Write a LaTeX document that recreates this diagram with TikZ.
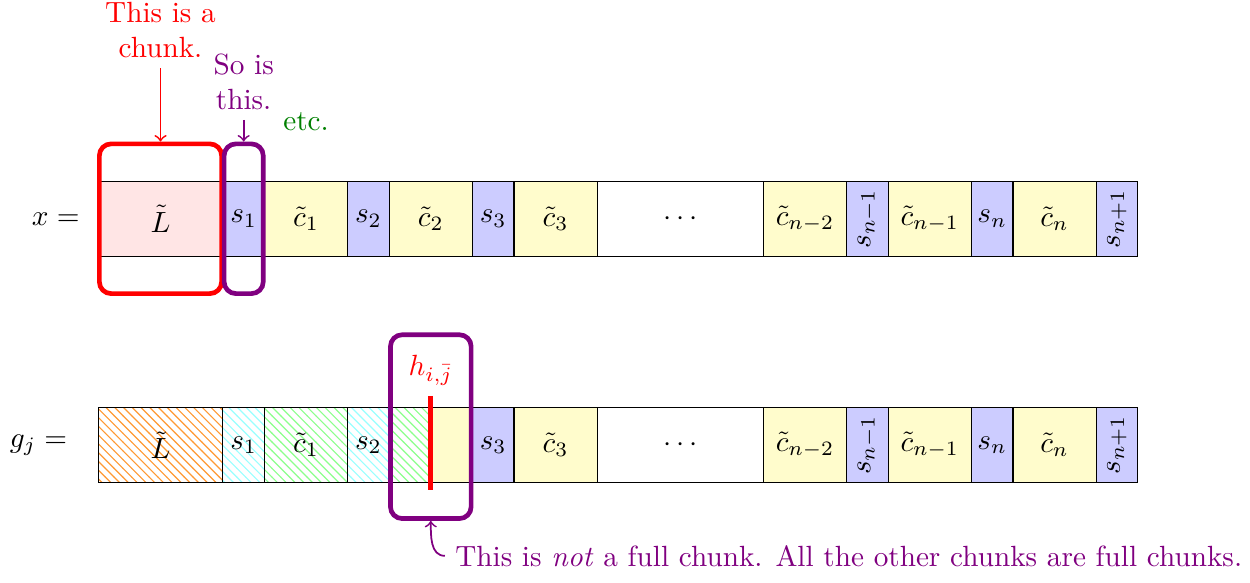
\documentclass[tikz,border=0pt]{standalone}
\usetikzlibrary{positioning,patterns}
\tikzstyle{cell} = [rectangle, draw = black, inner sep = 0pt, outer sep = 0pt, minimum height = 0.9cm]
\tikzstyle{lcell} = [cell, minimum width = 1.5cm, fill = red!10]
\tikzstyle{scell} = [cell, minimum width = 0.5cm, fill = blue!20]
\tikzstyle{ccell} = [cell, minimum width = 1cm, fill = yellow!20]
\tikzstyle{gapcell} = [cell, minimum width = 2cm, fill = white]
\tikzstyle{hcell} = [cell, pattern = north west lines]
\tikzstyle{chunkbox} = [rectangle, rounded corners, ultra thick, inner sep = 0pt, minimum height = 1.8cm]
\tikzstyle{cutline} = [red, ultra thick]
\tikzstyle{arrow} = [semithick,->]

\begin{document}
\begin{tikzpicture}
        \useasboundingbox (-1.18,2.63) rectangle (13.85,-4.37);

        % first row: x
        \node[lcell](L) at (0.75,0){$\tilde{L}$};
        \node[scell,right = 0pt of L](s1){$s_1$};
        \node[ccell,right = 0pt of s1](c1){$\tilde{c}_1$};
        \node[scell,right = 0pt of c1](s2){$s_2$};
        \node[ccell,right = 0pt of s2](c2){$\tilde{c}_2$};
        \node[scell,right = 0pt of c2](s3){$s_3$};
        \node[ccell,right = 0pt of s3](c3){$\tilde{c}_3$};
        \node[gapcell,right = 0pt of c3](dots){$\cdots$\hspace{0.58cm}};
        \node[ccell,right = 0pt of dots](cn2){$\tilde{c}_{n-2}$};
        \node[scell,right = 0pt of cn2](sn1){\rotatebox{90}{$s_{n-1}$}};
        \node[ccell,right = 0pt of sn1](cn1){$\tilde{c}_{n-1}$};
        \node[scell,right = 0pt of cn1](sn){$s_n$};
        \node[ccell,right = 0pt of sn](cn){$\tilde{c}_n$};
        \node[scell,right = 0pt of cn](snp1){\rotatebox{90}{$s_{n+1}$}};
        \node[left = 0.1cm of L](x){$x =$};

        \node[chunkbox,draw = red,minimum width = 1.47cm](Lchunk) at (L){};
        \node[chunkbox,draw = violet,minimum width = 0.47cm](s1chunk) at (s1){};
        \node[red,align = center,above = 0.88cm of Lchunk](note1){This is a\\chunk.};
        \node[violet,align = center,above = 0.26cm of s1chunk](note2){So is\\this.};
        \node[green!50!black,anchor = south](note3) at (c1 |- s1chunk.north){etc.};
        \draw [arrow,red](note1)--(Lchunk);
        \draw [arrow,violet](note2)--(s1chunk);

        % second row: g_j
        \node[hcell,minimum width = 1.5cm,pattern color = orange!80](gL) at (0.75,-2.72){$\tilde{L}$};
        \node[hcell,minimum width = 0.5cm,pattern color = cyan!40,right = 0pt of gL](gs1){$s_1$};
        \node[hcell,minimum width = 1cm,pattern color = green!45,right = 0pt of gs1](gc1){$\tilde{c}_1$};
        \node[hcell,minimum width = 0.5cm,pattern color = cyan!40,right = 0pt of gc1](gs2){$s_2$};
        \node[hcell,minimum width = 0.5cm,pattern color = green!45,right = 0pt of gs2](gc2a){};
        \node[ccell,minimum width = 0.5cm,right = 0pt of gc2a](gc2b){};
        \node[scell,right = 0pt of gc2b](gs3){$s_3$};
        \node[ccell,right = 0pt of gs3](gc3){$\tilde{c}_3$};
        \node[gapcell,right = 0pt of gc3](gdots){$\cdots$\hspace{0.58cm}};
        \node[ccell,right = 0pt of gdots](gcn2){$\tilde{c}_{n-2}$};
        \node[scell,right = 0pt of gcn2](gsn1){\rotatebox{90}{$s_{n-1}$}};
        \node[ccell,right = 0pt of gsn1](gcn1){$\tilde{c}_{n-1}$};
        \node[scell,right = 0pt of gcn1](gsn){$s_n$};
        \node[ccell,right = 0pt of gsn](gcn){$\tilde{c}_n$};
        \node[scell,right = 0pt of gcn](gsnp1){\rotatebox{90}{$s_{n+1}$}};
        \node[left = 0.25cm of gL](g){$g_j =$};

        \node[red,anchor = south](h) at ([yshift = 0.59cm]gc2a.east){$h_{i,\bar{j}}$};
        \coordinate (hend) at ([yshift = -0.54cm]gc2a.east);
        \draw [cutline](h.south)--(hend);

        \node[chunkbox,draw = violet,minimum width = 0.97cm,minimum height = 2.21cm](part) at ([yshift = 0.22cm]gc2a.east){};
        \node[violet,anchor = west](note4) at ([xshift = 0.17cm,yshift = -0.42cm]part.south){This is \emph{not} a full chunk. All the other chunks are full chunks.};
        \draw [arrow,violet](note4.west) to[out = 180,in = -90] (part.south);

\end{tikzpicture}
\end{document}
